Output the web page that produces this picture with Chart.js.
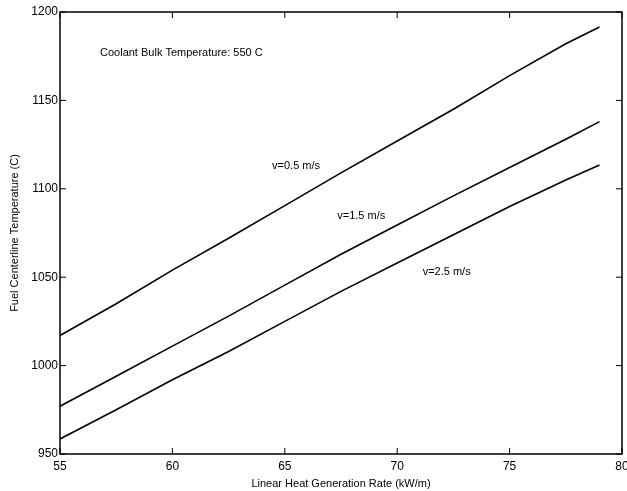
<!DOCTYPE html>
<html>
<head>
<meta charset="utf-8">
<script src="https://cdn.jsdelivr.net/npm/chart.js@4/dist/chart.umd.min.js"></script>
<style>
  html, body { margin: 0; padding: 0; background: #fff; }
  #wrap { width: 627px; height: 491px; }
</style>
</head>
<body>
<div id="wrap"><canvas id="chart"></canvas></div>
<script>
// x positions (kW/m) and centerline temperature for each coolant velocity
const xValues = [55, 57.5, 60, 62.5, 65, 67.5, 70, 72.5, 75, 77.5, 79];
const v05 = [1017, 1035, 1054, 1072, 1090.5, 1109, 1127, 1145, 1164, 1182, 1191.5];
const v15 = [977, 994, 1011, 1028, 1045.5, 1063, 1079.5, 1096, 1112, 1128, 1138];
const v25 = [958.5, 975, 992, 1008, 1025, 1042, 1058, 1074, 1090, 1105, 1113.5];

const xTicks = [55, 60, 65, 70, 75, 80];
const yTicks = [950, 1000, 1050, 1100, 1150, 1200];

// text notes placed in data coordinates
const notes = [
  { text: 'Coolant Bulk Temperature: 550 C', x: 56.78, y: 1177, align: 'left' },
  { text: 'v=0.5 m/s', x: 65.5, y: 1113, align: 'center' },
  { text: 'v=1.5 m/s', x: 68.4, y: 1084.5, align: 'center' },
  { text: 'v=2.5 m/s', x: 72.2, y: 1053, align: 'center' }
];

const FONT = '"Liberation Sans", Arial, sans-serif';

const mkSeries = (label, vals) => ({
  label,
  data: xValues.map((x, i) => ({ x, y: vals[i] })),
  borderColor: '#000',
  borderWidth: 1.6,
  pointRadius: 0,
  tension: 0,
  fill: false
});

// box around plot + inward tick marks + notes
const frame = {
  id: 'frame',
  afterDraw(chart) {
    const { ctx, chartArea: a, scales: { x, y } } = chart;
    ctx.save();
    ctx.strokeStyle = '#000';
    ctx.lineWidth = 1.5;
    ctx.strokeRect(a.left, a.top, a.right - a.left, a.bottom - a.top);
    ctx.lineWidth = 1;
    ctx.beginPath();
    xTicks.forEach(t => {
      const px = x.getPixelForValue(t);
      ctx.moveTo(px, a.bottom); ctx.lineTo(px, a.bottom - 6);
      ctx.moveTo(px, a.top); ctx.lineTo(px, a.top + 6);
    });
    yTicks.forEach(t => {
      const py = y.getPixelForValue(t);
      ctx.moveTo(a.left, py); ctx.lineTo(a.left + 6, py);
      ctx.moveTo(a.right, py); ctx.lineTo(a.right - 6, py);
    });
    ctx.stroke();

    ctx.fillStyle = '#000';
    ctx.font = '11px ' + FONT;
    ctx.textBaseline = 'middle';
    notes.forEach(n => {
      ctx.textAlign = n.align;
      ctx.fillText(n.text, x.getPixelForValue(n.x), y.getPixelForValue(n.y));
    });
    ctx.restore();
  }
};

new Chart(document.getElementById('chart'), {
  type: 'line',
  data: {
    datasets: [
      mkSeries('v=0.5 m/s', v05),
      mkSeries('v=1.5 m/s', v15),
      mkSeries('v=2.5 m/s', v25)
    ]
  },
  options: {
    responsive: true,
    maintainAspectRatio: false,
    animation: false,
    layout: { autoPadding: false, padding: { top: 12, right: 5, left: 0, bottom: 0 } },
    plugins: { legend: { display: false }, tooltip: { enabled: false } },
    scales: {
      x: {
        type: 'linear',
        min: 55, max: 80,
        afterBuildTicks: s => { s.ticks = xTicks.map(v => ({ value: v })); },
        afterFit: s => { s.height = 37; s.paddingLeft = 0; s.paddingRight = 0; },
        grid: { display: false, drawTicks: false },
        border: { display: false },
        ticks: { color: '#000', font: { family: FONT, size: 12 }, padding: 5, maxRotation: 0, callback: v => String(v) },
        title: {
          display: true,
          text: 'Linear Heat Generation Rate (kW/m)',
          color: '#000',
          font: { family: FONT, size: 11 },
          padding: { top: -5, bottom: 0 }
        }
      },
      y: {
        min: 950, max: 1200,
        afterBuildTicks: s => { s.ticks = yTicks.map(v => ({ value: v })); },
        afterFit: s => { s.width = 60; s.paddingTop = 0; s.paddingBottom = 0; },
        grid: { display: false, drawTicks: false },
        border: { display: false },
        ticks: { color: '#000', font: { family: FONT, size: 12 }, padding: 2, callback: v => String(v) },
        title: {
          display: true,
          text: 'Fuel Centerline Temperature (C)',
          color: '#000',
          font: { family: FONT, size: 11 },
          padding: { top: 8, bottom: 0 }
        }
      }
    }
  },
  plugins: [frame]
});
</script>
</body>
</html>
